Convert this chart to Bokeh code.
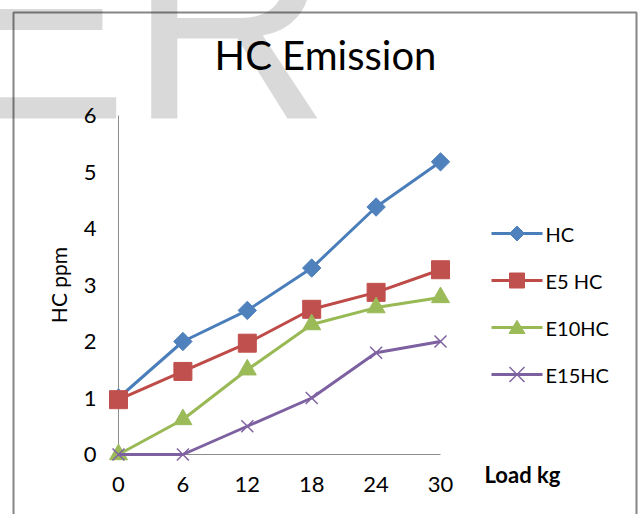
import math
from bokeh.plotting import figure
from bokeh.models import Range1d, FixedTicker
from bokeh.core.properties import value
from bokeh.embed import file_html
from bokeh.resources import INLINE

# ---- data ----
load_kg = [0, 6, 12, 18, 24, 30]
hc = [1.0, 2.0, 2.55, 3.3, 4.38, 5.18]
e5_hc = [0.97, 1.47, 1.97, 2.57, 2.87, 3.27]
e10_hc = [0.0, 0.62, 1.5, 2.3, 2.6, 2.78]
e15_hc = [0.0, 0.0, 0.5, 1.0, 1.8, 2.0]
x_ticks = [0, 6, 12, 18, 24, 30]
y_ticks = [0, 1, 2, 3, 4, 5, 6]
series_names = ["HC", "E5 HC", "E10HC", "E15HC"]

FONT = "Lato"
X0, X1, Y0, Y1 = 0, 30, 0, 6
FL, FR, FT, FB = 118, 440, 115, 454  # frame edges in pixels


def dx(px):
    return X0 + (px - FL) / (FR - FL) * (X1 - X0)


def dy(py):
    return Y0 + (FB - py) / (FB - FT) * (Y1 - Y0)


p = figure(width=640, height=514, x_range=Range1d(X0, X1), y_range=Range1d(Y0, Y1),
           output_backend="svg", toolbar_location=None, title=None,
           min_border_left=FL, min_border_right=640 - FR, min_border_top=FT,
           min_border_bottom=514 - FB)
p.outline_line_color = None
p.xgrid.visible = False
p.ygrid.visible = False
p.background_fill_color = "white"
p.border_fill_color = "white"

for ax in (p.xaxis[0], p.yaxis[0]):
    ax.axis_line_color = "#8c8c8c"
    ax.axis_line_width = 1
    ax.major_tick_out = 0
    ax.major_tick_in = 0
    ax.minor_tick_out = 0
    ax.minor_tick_in = 0
    ax.major_label_text_font = FONT
    ax.major_label_text_font_size = "22px"
    ax.major_label_text_color = "#000000"

p.xaxis.ticker = FixedTicker(ticks=x_ticks)
p.yaxis.ticker = FixedTicker(ticks=y_ticks)
p.xaxis.major_label_standoff = 22
p.yaxis.major_label_standoff = 22
p.yaxis.axis_label = "HC ppm"
p.yaxis.axis_label_text_font = FONT
p.yaxis.axis_label_text_font_size = "21px"
p.yaxis.axis_label_text_font_style = "normal"
p.yaxis.axis_label_text_color = "#000000"
p.yaxis.axis_label_standoff = 10

styles = [
    (hc, "#4A7EBB", "#4F81BD", "square", 13, 0.785398),
    (e5_hc, "#BE4B48", "#C0504D", "square", 18, 0.0),
    (e10_hc, "#98B954", "#9BBB59", "triangle", 18, 0.0),
    (e15_hc, "#7D60A0", "#8064A2", "x", 17, 0.0),
]
legend_shapes = ["diamond", "square", "triangle", "x"]


def legend_marker(cx, cy, shape, s, color):
    """Legend sample marker drawn as a small patch around pixel centre (cx, cy)."""
    h = s / 2.0
    if shape == "diamond":
        pts = [(0, -h), (h, 0), (0, h), (-h, 0)]
    elif shape == "square":
        pts = [(-h, -h), (h, -h), (h, h), (-h, h)]
    elif shape == "triangle":
        pts = [(0, -h * 0.9), (h, h * 0.75), (-h, h * 0.75)]
    else:
        xs = [dx(cx - h), dx(cx + h), math.nan, dx(cx - h), dx(cx + h)]
        ys = [dy(cy - h), dy(cy + h), math.nan, dy(cy + h), dy(cy - h)]
        p.line(xs, ys, line_color=color, line_width=1.5, level="overlay")
        return
    p.patch([dx(cx + a) for a, b in pts], [dy(cy + b) for a, b in pts],
            fill_color=color, line_color=color, level="overlay")


# legend rows (pixel centres) and sample geometry
legend_rows = [233, 280, 327, 374]
legend_sizes = [15, 15, 16, 15]
for i, (name, (ys, lc, mc, mk, sz, ang)) in enumerate(zip(series_names, styles)):
    p.line(load_kg, ys, line_color=lc, line_width=3, level="overlay")
    if mk == "x":
        p.scatter(load_kg, ys, marker=mk, size=sz, line_color=mc, line_width=1.5,
                  level="overlay")
    else:
        p.scatter(load_kg, ys, marker=mk, size=sz, angle=ang, fill_color=mc,
                  line_color=mc, level="overlay")
    row = legend_rows[i]
    p.line([dx(491), dx(542)], [dy(row), dy(row)], line_color=lc, line_width=3,
           level="overlay")
    legend_marker(516.5, row, legend_shapes[i], legend_sizes[i], mc)
    p.text(x=[dx(545)], y=[dy(row)], text=[name], text_font=value(FONT),
           text_font_size="20px", text_color="#000000", text_align="left",
           text_baseline="middle", level="overlay")

# chart-area border
p.quad(left=[dx(13)], right=[dx(636)], top=[dy(12)], bottom=[dy(540)],
       fill_alpha=0, line_color="#868686", line_width=2, level="overlay")

# title
p.text(x=[dx(325)], y=[dy(54)], text=["HC Emission"], text_font=value(FONT),
       text_font_size="40px", text_color="#000000", text_align="center",
       text_baseline="middle", level="overlay")

# x axis title, to the right of the axis
p.text(x=[dx(484)], y=[dy(474)], text=["Load kg"], text_font=value(FONT),
       text_font_size="22px", text_font_style="bold", text_color="#000000",
       text_align="left", text_baseline="middle", level="overlay")

# faint watermark letters (multiplied over the page)
p.text(x=[dx(-59)], y=[dy(21)], text=["ER"], text_font=value("Liberation Sans"),
       text_font_size="280px", text_color="#000000", text_alpha=0.15,
       text_align="left", text_baseline="middle", level="overlay")

open("out.html", "w").write(file_html(p, INLINE))
